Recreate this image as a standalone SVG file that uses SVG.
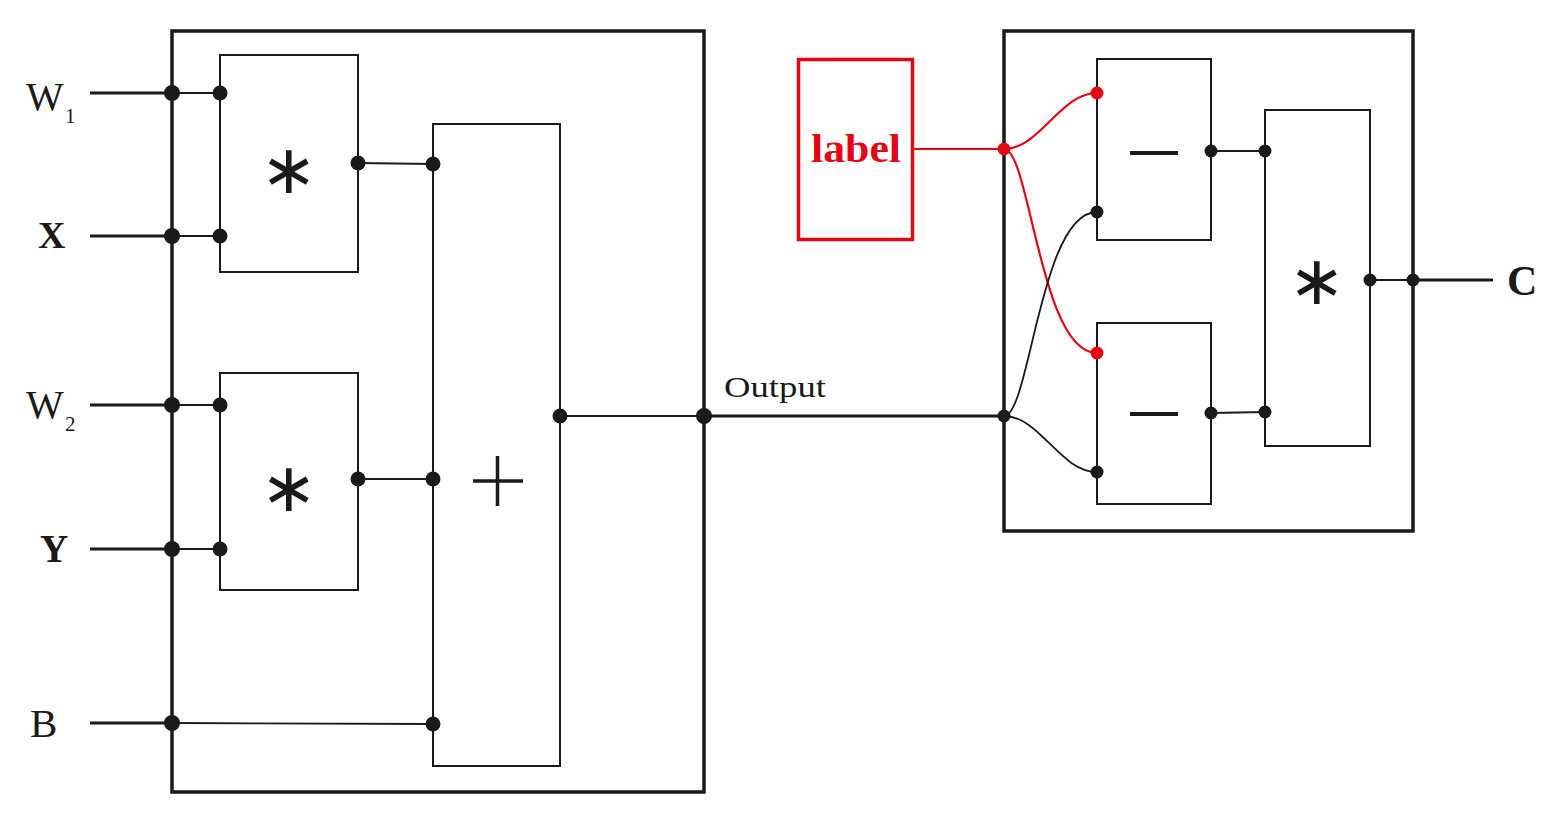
<svg xmlns="http://www.w3.org/2000/svg" width="1560" height="834" viewBox="0 0 1560 834">
<style>
.outer{fill:none;stroke:#1a1a1a;stroke-width:3.5}
.box{fill:none;stroke:#1a1a1a;stroke-width:2}
.wire{fill:none;stroke:#1a1a1a;stroke-width:1.8}
.in{fill:none;stroke:#1a1a1a;stroke-width:3}
.rwire{fill:none;stroke:#e30613;stroke-width:2.2}
.dot{fill:#1a1a1a}
.rdot{fill:#e30613}
.t{font-family:"Liberation Serif","DejaVu Serif",serif;fill:#1a1a1a}
.b{font-weight:bold}
.op{font-family:"DejaVu Sans",sans-serif;fill:#1a1a1a;text-anchor:middle}
</style>
<rect width="1560" height="834" fill="#ffffff"/>
<g id="left-block">
<rect class="outer" x="172" y="31" width="532" height="761"/>
</g>
<g id="mult1">
<rect class="box" x="220" y="55" width="138" height="217"/>
<text class="op" x="289" y="193" font-size="68">∗</text>
</g>
<g id="mult2">
<rect class="box" x="220" y="373" width="138" height="217"/>
<text class="op" x="289" y="511" font-size="68">∗</text>
</g>
<g id="add">
<rect class="box" x="433" y="124" width="127" height="642"/>
<line x1="473" y1="481" x2="523" y2="481" stroke="#1a1a1a" stroke-width="3.5"/>
<line x1="497.5" y1="456" x2="497.5" y2="506" stroke="#1a1a1a" stroke-width="3.5"/>
</g>
<g id="label-node">
<rect x="798.5" y="59.5" width="114" height="180" fill="none" stroke="#e30613" stroke-width="3.5"/>
<text class="t b" x="856" y="162" font-size="40" fill="#e30613" style="fill:#e30613" text-anchor="middle" textLength="90" lengthAdjust="spacingAndGlyphs">label</text>
</g>
<g id="right-block">
<rect class="outer" x="1004" y="31" width="409" height="500"/>
</g>
<g id="sub1">
<rect class="box" x="1097" y="59" width="114" height="181"/>
<line x1="1130" y1="153" x2="1178" y2="153" stroke="#1a1a1a" stroke-width="4"/>
</g>
<g id="sub2">
<rect class="box" x="1097" y="323" width="114" height="181"/>
<line x1="1130" y1="414" x2="1178" y2="414" stroke="#1a1a1a" stroke-width="4"/>
</g>
<g id="mult3">
<rect class="box" x="1265" y="110" width="105" height="336"/>
<text class="op" x="1317" y="304" font-size="68">∗</text>
</g>
<g id="labels">
<text class="t" x="26" y="110" font-size="40">W</text>
<text class="t" x="65" y="123" font-size="21">1</text>
<text class="t b" x="38" y="248" font-size="38">X</text>
<text class="t" x="26" y="418" font-size="40">W</text>
<text class="t" x="65" y="431" font-size="21">2</text>
<text class="t b" x="40" y="562" font-size="39">Y</text>
<text class="t" x="30" y="737" font-size="41">B</text>
<text class="t" x="724" y="397" font-size="29" textLength="102" lengthAdjust="spacingAndGlyphs">Output</text>
<text class="t b" x="1507" y="295" font-size="42">C</text>
</g>
<g id="connectors">
<line class="in" x1="90" y1="93" x2="172" y2="93"/>
<line class="in" x1="90" y1="236" x2="172" y2="236"/>
<line class="in" x1="90" y1="405" x2="172" y2="405"/>
<line class="in" x1="90" y1="549" x2="172" y2="549"/>
<line class="in" x1="90" y1="723" x2="172" y2="723"/>
<line class="wire" x1="172" y1="93" x2="220" y2="93"/>
<line class="wire" x1="172" y1="236" x2="220" y2="236"/>
<line class="wire" x1="172" y1="405" x2="220" y2="405"/>
<line class="wire" x1="172" y1="549" x2="220" y2="549"/>
<line class="wire" x1="172" y1="723" x2="433" y2="724"/>
<line class="wire" x1="358" y1="163" x2="433" y2="164"/>
<line class="wire" x1="358" y1="479" x2="433" y2="479"/>
<line class="wire" x1="560" y1="416" x2="704" y2="416"/>
<line class="in" x1="704" y1="416" x2="1004" y2="416"/>
<line class="rwire" x1="912" y1="149" x2="1004" y2="149"/>
<path class="rwire" d="M1004,149 C1040,149 1060,93 1097,93"/>
<path class="rwire" d="M1004,149 C1030,149 1040,353 1097,353"/>
<path class="wire" d="M1004,416 C1030,416 1040,212 1097,212"/>
<path class="wire" d="M1004,416 C1040,416 1060,472 1097,472"/>
<line class="wire" x1="1211" y1="151" x2="1265" y2="151"/>
<line class="wire" x1="1211" y1="413" x2="1265" y2="412"/>
<line class="wire" x1="1370" y1="280" x2="1413" y2="280"/>
<line class="in" x1="1413" y1="280" x2="1493" y2="280"/>
<circle class="dot" cx="172" cy="93" r="8"/>
<circle class="dot" cx="172" cy="236" r="8"/>
<circle class="dot" cx="172" cy="405" r="8"/>
<circle class="dot" cx="172" cy="549" r="8"/>
<circle class="dot" cx="172" cy="723" r="8"/>
<circle class="dot" cx="220" cy="93" r="7.5"/>
<circle class="dot" cx="220" cy="236" r="7.5"/>
<circle class="dot" cx="220" cy="405" r="7.5"/>
<circle class="dot" cx="220" cy="549" r="7.5"/>
<circle class="dot" cx="358" cy="163" r="7.5"/>
<circle class="dot" cx="358" cy="479" r="7.5"/>
<circle class="dot" cx="433" cy="164" r="7.5"/>
<circle class="dot" cx="433" cy="479" r="7.5"/>
<circle class="dot" cx="433" cy="724" r="7.5"/>
<circle class="dot" cx="560" cy="416" r="7.5"/>
<circle class="dot" cx="704" cy="416" r="8"/>
<circle class="dot" cx="1004" cy="416" r="6.5"/>
<circle class="rdot" cx="1004" cy="149" r="6.5"/>
<circle class="rdot" cx="1097" cy="93" r="6.5"/>
<circle class="rdot" cx="1097" cy="353" r="6.5"/>
<circle class="dot" cx="1097" cy="212" r="6.5"/>
<circle class="dot" cx="1097" cy="472" r="6.5"/>
<circle class="dot" cx="1211" cy="151" r="6.5"/>
<circle class="dot" cx="1211" cy="413" r="6.5"/>
<circle class="dot" cx="1265" cy="151" r="6.5"/>
<circle class="dot" cx="1265" cy="412" r="6.5"/>
<circle class="dot" cx="1370" cy="280" r="6.5"/>
<circle class="dot" cx="1413" cy="280" r="6.5"/>
</g>
</svg>
